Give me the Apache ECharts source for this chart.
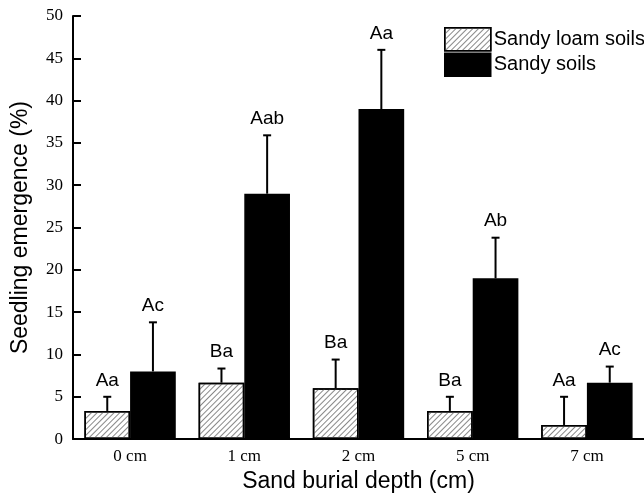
<!DOCTYPE html>
<html>
<head>
<meta charset="utf-8">
<script src="https://cdn.jsdelivr.net/npm/echarts@6/dist/echarts.min.js"></script>
<style>html,body{margin:0;padding:0;background:#fff}#c{width:644px;height:498px}</style>
</head>
<body>
<div id="c"></div>
<script>
var categories = ['0 cm', '1 cm', '2 cm', '5 cm', '7 cm'];
var loamValues = [3.33, 6.67, 6.0, 3.33, 1.67];
var loamErrors = [1.67, 1.67, 3.4, 1.67, 3.33];
var loamLetters = ['Aa', 'Ba', 'Ba', 'Ba', 'Aa'];
var sandyValues = [8, 29, 39, 19, 6.67];
var sandyErrors = [5.8, 6.9, 7.0, 4.8, 1.9];
var sandyLetters = ['Ac', 'Aab', 'Aa', 'Ab', 'Ac'];
var yTicks = { min: 0, max: 50, interval: 5 };

var SANS = 'Liberation Sans';
var SERIF = 'Liberation Serif';

function errData(vals, errs, letters) {
  return vals.map(function (v, i) { return [i, v, v + errs[i], letters[i]]; });
}

function makeErrRender(side) {
  return function (params, api) {
    var idx = api.value(0);
    var base = api.coord([idx, api.value(1)]);
    var top = api.coord([idx, api.value(2)]);
    var band = api.size([1, 0])[0];
    var x = base[0] + side * band * 0.2;
    var cap = 4;
    return {
      type: 'group',
      children: [
        { type: 'line', shape: { x1: x, y1: base[1], x2: x, y2: top[1] }, style: { stroke: '#000', lineWidth: 2 } },
        { type: 'line', shape: { x1: x - cap, y1: top[1], x2: x + cap, y2: top[1] }, style: { stroke: '#000', lineWidth: 2 } },
        { type: 'text', x: x, y: top[1] - 7, style: { text: api.value(3), fill: '#000', font: '19px ' + SANS, align: 'center', verticalAlign: 'bottom' } }
      ]
    };
  };
}

var chart = echarts.init(document.getElementById('c'));
chart.setOption({
  animation: false,
  backgroundColor: '#fff',
  grid: { left: 73, right: 0, top: 16, bottom: 56 },
  legend: {
    data: ['Sandy loam soils', 'Sandy soils'],
    orient: 'vertical',
    left: 439, top: 22,
    itemWidth: 46, itemHeight: 23, itemGap: 1,
    icon: 'rect',
    textStyle: { fontFamily: SANS, fontSize: 20, color: '#000', padding: [0, 0, 0, -2] },
    itemStyle: { borderColor: '#000', borderWidth: 1.5 }
  },
  xAxis: {
    type: 'category',
    data: categories,
    name: 'Sand burial depth (cm)',
    nameLocation: 'middle',
    nameGap: 27,
    nameTextStyle: { fontFamily: SANS, fontSize: 23, color: '#000' },
    axisLine: { lineStyle: { color: '#000', width: 2 } },
    axisTick: { show: false },
    axisLabel: { fontFamily: SERIF, fontSize: 17, color: '#000', margin: 9 }
  },
  yAxis: {
    type: 'value',
    min: yTicks.min, max: yTicks.max, interval: yTicks.interval,
    name: 'Seedling emergence (%)',
    nameLocation: 'middle',
    nameGap: 41,
    nameTextStyle: { fontFamily: SANS, fontSize: 23, color: '#000' },
    axisLine: { show: true, lineStyle: { color: '#000', width: 2 } },
    axisTick: { show: true, inside: true, length: 8, lineStyle: { color: '#000', width: 2 } },
    splitLine: { show: false },
    axisLabel: { fontFamily: SERIF, fontSize: 17, color: '#000', margin: 10 }
  },
  series: [
    {
      name: 'Sandy loam soils', type: 'bar', data: loamValues,
      barGap: '0%', barCategoryGap: '20%',
      itemStyle: {
        color: '#fff', borderColor: '#000', borderWidth: 1.5,
        decal: { symbol: 'rect', symbolSize: 1, color: '#888', dashArrayX: [1, 0], dashArrayY: [1, 3], rotation: -Math.PI / 4 }
      }
    },
    {
      name: 'Sandy soils', type: 'bar', data: sandyValues,
      barGap: '0%', barCategoryGap: '20%',
      itemStyle: { color: '#000', borderColor: '#000', borderWidth: 1.5 }
    },
    { name: 'errLoam', type: 'custom', data: errData(loamValues, loamErrors, loamLetters), renderItem: makeErrRender(-1), z: 5, silent: true, encode: { x: 0, y: [1, 2] } },
    { name: 'errSandy', type: 'custom', data: errData(sandyValues, sandyErrors, sandyLetters), renderItem: makeErrRender(1), z: 5, silent: true, encode: { x: 0, y: [1, 2] } }
  ]
});
</script>
</body>
</html>
